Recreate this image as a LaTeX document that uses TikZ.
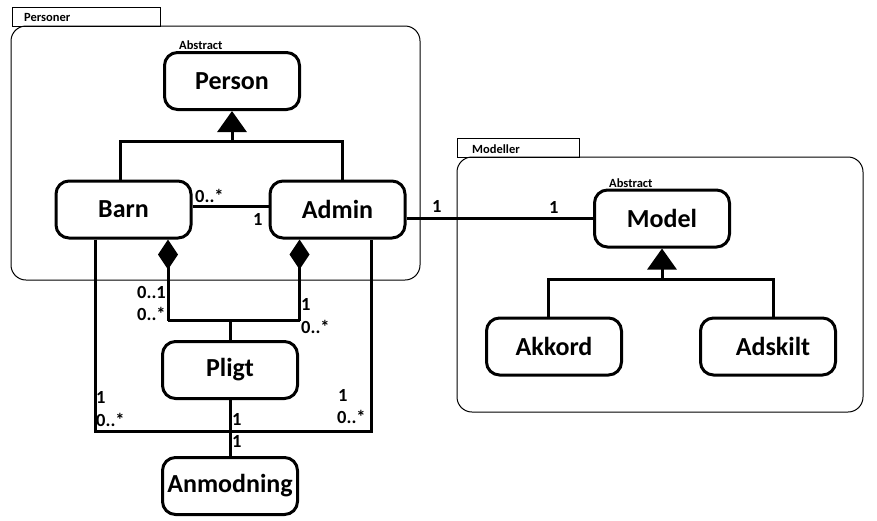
\documentclass[tikz,border=0pt]{standalone}
\usepackage{fontspec}
\setmainfont{Carlito}
\usetikzlibrary{arrows.meta,positioning}
\tikzset{
	cls/.style={draw, line width=3pt, rounded corners=13pt, minimum width=135pt, minimum height=57pt, inner sep=0pt, font=\fontsize{26}{30}\selectfont\bfseries},
	mult/.style={inner sep=0pt, anchor=base west, font=\fontsize{18.5}{22}\selectfont\bfseries},
	tag/.style={inner sep=0pt, anchor=base west, font=\fontsize{12.5}{14}\selectfont\bfseries},
	link/.style={line width=3pt},
	gen/.style={link, -{Triangle[width=29pt,length=21pt]}},
	comp/.style={link, -{Diamond[width=20pt,length=30pt]}},
	pkg/.style={line width=1pt, rounded corners=15pt}
}

\begin{document}
\begin{tikzpicture}[x=1pt,y=-1pt]
	\useasboundingbox (0,0) rectangle (877,520);

	\draw[pkg] (11,26) rectangle (420,280);
	\draw[line width=1pt] (12,7) rectangle (160,26);
	\node[tag] (lblpersoner) at (24,21.5) {Personer};
	\draw[pkg] (457,157) rectangle (863,412);
	\draw[line width=1pt] (457,138) rectangle (579,157);
	\node[tag] (lblmodeller) at (472,153) {Modeller};

	\node[cls] (person) at (232,81) {Person};
	\node[tag] (absperson) at (179,49) {Abstract};
	\node[cls] (barn) at (123.5,209.5) {Barn};
	\node[cls, right=76pt of barn] (admin) {Admin};
	\node[cls] (pligt) at (230,370) {Pligt};
	\node[cls, below=56pt of pligt] (anmodning) {Anmodning};

	\node[cls] (model) at (662,218.5) {Model};
	\node[tag] (absmodel) at (609,187) {Abstract};
	\node[cls] (akkord) at (554,346.5) {Akkord};
	\node[cls, right=76pt of akkord] (adskilt) {\hspace*{10pt}Adskilt};

	\coordinate[below=30.5pt of person.south] (pjoin);
	\draw[link] ([xshift=-3.5pt]barn.north) |- (pjoin) -| ([xshift=5pt]admin.north);
	\draw[gen] (pjoin) -- (person.south);

	\draw[link] ([yshift=3.5pt]barn.east) -- ([yshift=3.5pt]admin.west);
	\node[mult] (m1) at (195,202) {0..*};
	\node[mult] (m2) at (253,225) {1};

	\draw[link] (admin.east |- model.west) -- (model.west);
	\node[mult] (m3) at (432,212) {1};
	\node[mult] (m4) at (549,213) {1};

	\coordinate[above=19.5pt of pligt.north] (cjoin);
	\coordinate (bd) at ([xshift=44.5pt]barn.south);
	\coordinate (ad) at ([xshift=-38pt]admin.south);
	\draw[link] (pligt.north) -- (cjoin);
	\draw[link] (bd |- cjoin) -- (ad |- cjoin);
	\draw[comp] (bd |- cjoin) -- (bd);
	\draw[comp] (ad |- cjoin) -- (ad);
	\node[mult] (m5) at (137,298) {0..1};
	\node[mult] (m6) at (137,320) {0..*};
	\node[mult] (m7) at (301,310) {1};
	\node[mult] (m8) at (301,333) {0..*};

	\coordinate[below=31.5pt of pligt.south] (ljoin);
	\draw[link] ([xshift=-28.5pt]barn.south) |- (ljoin) -| ([xshift=34pt]admin.south);
	\draw[link] (pligt.south) -- (anmodning.north);
	\node[mult] (m9) at (96,403) {1};
	\node[mult] (m10) at (96,426) {0..*};
	\node[mult] (m11) at (338,401) {1};
	\node[mult] (m12) at (337,423) {0..*};
	\node[mult] (m13) at (232,425) {1};
	\node[mult] (m14) at (232,447) {1};

	\coordinate[below=30.5pt of model.south] (mjoin);
	\draw[link] ([xshift=-6pt]akkord.north) |- (mjoin) -| ([xshift=5pt]adskilt.north);
	\draw[gen] (mjoin) -- (model.south);
\end{tikzpicture}
\end{document}
